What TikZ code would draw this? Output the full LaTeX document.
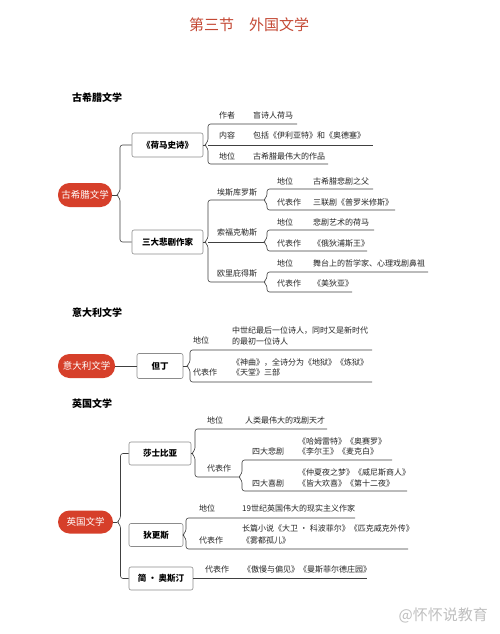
\documentclass[tikz,border=0pt]{standalone}
\usepackage{fontspec}
\setmainfont{Noto Sans CJK SC}
\definecolor{redfill}{RGB}{214,63,42}
\definecolor{titlered}{RGB}{196,72,52}
\begin{document}
\begin{tikzpicture}[x=1pt,y=-1pt,
  conn/.style={draw=black!75, line width=0.6pt, rounded corners=2.5pt},
  box/.style={draw=black!45, line width=0.6pt, rounded corners=2pt, fill=white, font=\bfseries\fontsize{8.5}{10}\selectfont, minimum height=24pt, inner sep=0pt},
  redn/.style={fill=redfill, text=white, rounded corners=11.5pt, minimum height=24pt, font=\fontsize{9.5}{11}\selectfont, inner sep=0pt},
  leaf/.style={anchor=west, inner sep=0pt, text=black!85, font=\fontsize{8}{9.5}\selectfont, text height=6.5pt, text depth=1.5pt},
  hdr/.style={anchor=west, inner sep=0pt, font=\bfseries\fontsize{10}{12}\selectfont}]
\useasboundingbox (0,0) rectangle (500,634);
\fill[white] (0,0) rectangle (500,634);

\node[font=\fontsize{15}{18}\selectfont, text=titlered] (title) at (249,25) {第三节　外国文学};

% ---------- Greek ----------
\node[hdr] (h1) at (72,98) {古希腊文学};
\node[redn, minimum width=54pt] (greek) at (85,195) {古希腊文学};
\node[box, minimum width=71pt] (homer) at (167.5,145) {《荷马史诗》};
\node[box, minimum width=71pt] (tragic) at (167.5,242) {三大悲剧作家};
\coordinate (gtip) at (116.5,195);
\draw[conn] (homer.west) -- (120,145) -- (120,191.5) -- (gtip) -- (120,198.5) -- (120,242) -- (tragic.west);
\draw[conn] (greek.east) -- (gtip);

\coordinate (htip) at (204.5,145);
\draw[conn] (297,124) -- (208,124) -- (208,141.5) -- (htip) -- (208,148.5) -- (208,164) -- (328,164);
\draw[conn] (208,145) -- (373,145);
\draw[conn] (homer.east) -- (htip);
\node[leaf] (l1a) at (219,116) {作者};
\node[leaf] (l1b) at (253,116) {盲诗人荷马};
\node[leaf] (l2a) at (219,136) {内容};
\node[leaf] (l2b) at (253,136) {包括《伊利亚特》和《奥德塞》};
\node[leaf] (l3a) at (219,157) {地位};
\node[leaf] (l3b) at (253,157) {古希腊最伟大的作品};

\coordinate (ttip) at (204.5,242);
\draw[conn] (263.5,200) -- (208,200) -- (208,238.5) -- (ttip) -- (208,245.5) -- (208,282) -- (263.5,282);
\draw[conn] (208,242) -- (263.5,242);
\draw[conn] (tragic.east) -- (ttip);
\node[leaf] (aes) at (217,193) {埃斯库罗斯};
\node[leaf] (sop) at (217,233) {索福克勒斯};
\node[leaf] (eur) at (217,274) {欧里庇得斯};

\draw[conn] (373,189) -- (267,189) -- (267,196.5) -- (263.5,200) -- (267,203.5) -- (267,210) -- (395,210);
\node[leaf] (a1) at (277,182) {地位};
\node[leaf] (a2) at (313,182) {古希腊悲剧之父};
\node[leaf] (a3) at (277,203) {代表作};
\node[leaf] (a4) at (313,203) {三联剧《普罗米修斯》};

\draw[conn] (374,230) -- (267,230) -- (267,238.5) -- (263.5,242) -- (267,245.5) -- (267,251) -- (367,251);
\node[leaf] (s1) at (277,223) {地位};
\node[leaf] (s2) at (313,223) {悲剧艺术的荷马};
\node[leaf] (s3) at (277,244) {代表作};
\node[leaf] (s4) at (313,244) {《俄狄浦斯王》};

\draw[conn] (428,272) -- (267,272) -- (267,278.5) -- (263.5,282) -- (267,285.5) -- (267,292) -- (352,292);
\node[leaf] (e1) at (277,264) {地位};
\node[leaf] (e2) at (313,264) {舞台上的哲学家、心理戏剧鼻祖};
\node[leaf] (e3) at (277,284) {代表作};
\node[leaf] (e4) at (313,284) {《美狄亚》};

% ---------- Italy ----------
\node[hdr] (h2) at (72,313) {意大利文学};
\node[redn, minimum width=57pt] (italy) at (86.5,366) {意大利文学};
\node[box, minimum width=46pt, minimum height=25pt] (dante) at (160,366) {但丁};
\draw[conn] (italy.east) -- (dante.west);
\coordinate (dtip) at (186.5,366);
\draw[conn] (372,350) -- (190,350) -- (190,362.5) -- (dtip) -- (190,369.5) -- (190,382) -- (372,382);
\draw[conn] (dante.east) -- (dtip);
\node[leaf] (d1) at (193,341) {地位};
\node[leaf] (d2) at (232,331) {中世纪最后一位诗人，同时又是新时代};
\node[leaf] (d3) at (232,342) {的最初一位诗人};
\node[leaf] (d4) at (193,373) {代表作};
\node[leaf] (d5) at (232,363) {《神曲》，全诗分为《地狱》《炼狱》};
\node[leaf] (d6) at (232,373) {《天堂》三部};

% ---------- England ----------
\node[hdr] (h3) at (72,404) {英国文学};
\node[redn, minimum width=55pt, minimum height=23pt] (eng) at (85.5,522) {英国文学};
\node[box, minimum width=62pt, minimum height=23pt] (shakes) at (160,453.5) {莎士比亚};
\node[box, minimum width=54pt, minimum height=23pt] (dick) at (156,535) {狄更斯};
\node[box, minimum width=64pt, minimum height=23pt] (austen) at (161,578.5) {简 · 奥斯汀};
\coordinate (etip) at (117,522);
\draw[conn] (shakes.west) -- (120.5,453.5) -- (120.5,518.5) -- (etip) -- (120.5,525.5) -- (120.5,578.5) -- (austen.west);
\draw[conn] (eng.east) -- (etip);

\coordinate (stip) at (191.5,453.5);
\draw[conn] (327,429) -- (195,429) -- (195,450) -- (stip) -- (195,457) -- (195,477) -- (238.5,477);
\draw[conn] (shakes.east) -- (stip);
\draw[conn] (392,460) -- (242,460) -- (242,473.5) -- (238.5,477) -- (242,480.5) -- (242,491) -- (407,491);
\node[leaf] (sh1) at (207,421) {地位};
\node[leaf] (sh2) at (245,421) {人类最伟大的戏剧天才};
\node[leaf] (sh3) at (207,469) {代表作};
\node[leaf] (sh4) at (252,452) {四大悲剧};
\node[leaf] (sh5) at (298,442) {《哈姆雷特》《奥赛罗》};
\node[leaf] (sh6) at (298,452) {《李尔王》《麦克白》};
\node[leaf] (sh7) at (252,484) {四大喜剧};
\node[leaf] (sh8) at (298,473) {《仲夏夜之梦》《威尼斯商人》};
\node[leaf] (sh9) at (298,484) {《皆大欢喜》《第十二夜》};

\coordinate (ktip) at (182.5,535);
\draw[conn] (355,518) -- (186,518) -- (186,531.5) -- (ktip) -- (186,538.5) -- (186,549) -- (408,549);
\draw[conn] (dick.east) -- (ktip);
\node[leaf] (k1) at (199,509) {地位};
\node[leaf] (k2) at (242,509) {19世纪英国伟大的现实主义作家};
\node[leaf] (k3) at (199,541) {代表作};
\node[leaf] (k4) at (242,529) {长篇小说《大卫 · 科波菲尔》《匹克威克外传》};
\node[leaf] (k5) at (242,541) {《雾都孤儿》};

\coordinate (aend) at (367,578.5);
\draw[conn] (austen.east) -- (aend);
\node[leaf] (au1) at (205,570) {代表作};
\node[leaf] (au2) at (243,570) {《傲慢与偏见》《曼斯菲尔德庄园》};

\node[anchor=east, inner sep=0pt, text=black!25, font=\fontsize{15}{17}\selectfont] (wm) at (488,615) {@怀怀说教育};
\end{tikzpicture}
\end{document}
